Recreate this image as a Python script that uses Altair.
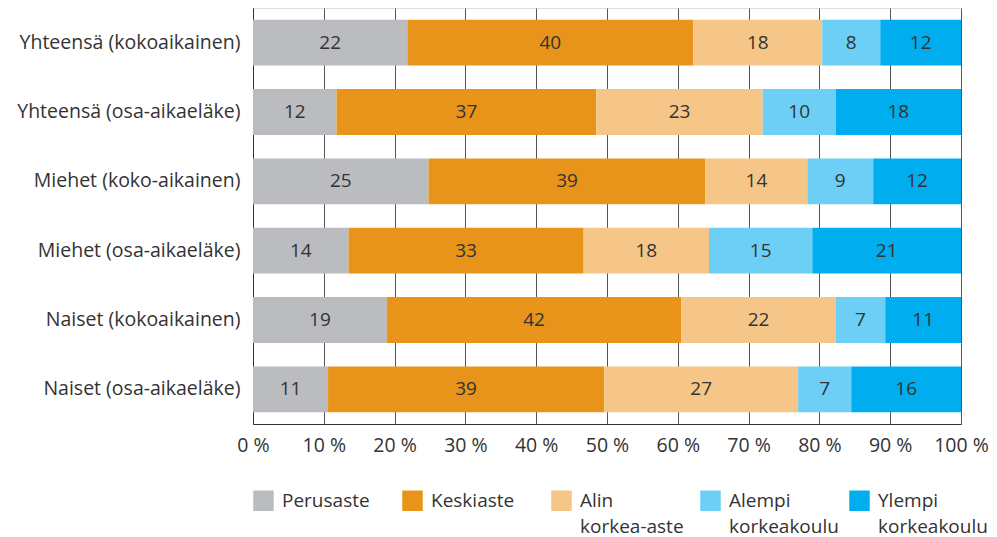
import altair as alt
import pandas as pd

categories = [
    "Yhteensä (kokoaikainen)",
    "Yhteensä (osa-aikaeläke)",
    "Miehet (koko-aikainen)",
    "Miehet (osa-aikaeläke)",
    "Naiset (kokoaikainen)",
    "Naiset (osa-aikaeläke)",
]
levels = ["Perusaste", "Keskiaste", "Alin korkea-aste", "Alempi korkeakoulu", "Ylempi korkeakoulu"]
colors = ["#bbbcc0", "#e8941a", "#f5c688", "#6dcff6", "#00aeef"]

# segment shares (%)
perusaste = [21.8, 11.8, 24.8, 13.5, 18.9, 10.6]
keskiaste = [40.4, 36.7, 39.1, 33.2, 41.6, 39.0]
alin = [18.2, 23.5, 14.4, 17.7, 21.8, 27.4]
alempi = [8.2, 10.3, 9.3, 14.6, 7.0, 7.5]
ylempi = [11.4, 17.7, 12.4, 21.0, 10.7, 15.5]

# printed labels
lab_perusaste = [22, 12, 25, 14, 19, 11]
lab_keskiaste = [40, 37, 39, 33, 42, 39]
lab_alin = [18, 23, 14, 18, 22, 27]
lab_alempi = [8, 10, 9, 15, 7, 7]
lab_ylempi = [12, 18, 12, 21, 11, 16]

series = [perusaste, keskiaste, alin, alempi, ylempi]
labels = [lab_perusaste, lab_keskiaste, lab_alin, lab_alempi, lab_ylempi]

rows = []
for li, (lev, vals, labs) in enumerate(zip(levels, series, labels)):
    for ci, cat in enumerate(categories):
        rows.append({"cat": cat, "level": lev, "order": li, "share": vals[ci], "label": str(labs[ci])})
df = pd.DataFrame(rows)

FONT = "Open Sans"
TXT = "#333333"
FS = 19.5

base = alt.Chart(df).transform_stack(
    stack="share", groupby=["cat"], sort=[alt.SortField("order")], as_=["x0", "x1"]
).transform_calculate(mid="(datum.x0 + datum.x1) / 2")

y_enc = alt.Y(
    "cat:N",
    sort=categories,
    title=None,
    scale=alt.Scale(paddingInner=0.34, paddingOuter=0.17),
    axis=alt.Axis(ticks=False, labelFontSize=FS, labelFont=FONT, labelColor=TXT,
                  labelPadding=13, domainColor="#333333", grid=False, labelLimit=400),
)

legend_expr = (
    "datum.label == 'Alin korkea-aste' ? ['Alin', 'korkea-aste'] : "
    "datum.label == 'Alempi korkeakoulu' ? ['Alempi', 'korkeakoulu'] : "
    "datum.label == 'Ylempi korkeakoulu' ? ['Ylempi', 'korkeakoulu'] : "
    "[datum.label, '']"
)

bars = base.mark_bar().encode(
    x=alt.X("x0:Q", scale=alt.Scale(domain=[0, 100], nice=False), title=None,
            axis=alt.Axis(values=list(range(0, 101, 10)), labelExpr="datum.value + ' %'",
                          labelOverlap=False, labelBound=False, labelFlush=False,
                          ticks=False, labelFontSize=FS, labelFont=FONT, labelColor=TXT,
                          labelPadding=12, grid=True, gridColor="#555555", gridOpacity=1,
                          domainColor="#333333")),
    x2="x1:Q",
    y=y_enc,
    color=alt.Color(
        "level:N", sort=levels,
        scale=alt.Scale(domain=levels, range=colors),
        legend=alt.Legend(
            title=None, orient="bottom", direction="horizontal", columns=5,
            symbolType="square", symbolSize=420, symbolStrokeWidth=0,
            labelFont=FONT, labelFontSize=19, labelColor=TXT,
            labelExpr=legend_expr, labelBaseline="middle",
            gridAlign="all", columnPadding=10, labelOffset=8, offset=35,
        ),
    ),
    order=alt.Order("order:Q"),
)

text = base.mark_text(font=FONT, fontSize=19, color=TXT).encode(
    x=alt.X("mid:Q"),
    y=alt.Y("cat:N", sort=categories),
    text="label:N",
)

chart = (bars + text).properties(
    width=708, height=416, padding={"left": 8, "top": 0, "right": 0, "bottom": 0}
).configure_view(stroke="#555555", strokeWidth=1).configure(
    style={"guide-label": {"lineHeight": 26}}
)

chart.save("out.html", embed_options={"renderer": "svg", "actions": False})
